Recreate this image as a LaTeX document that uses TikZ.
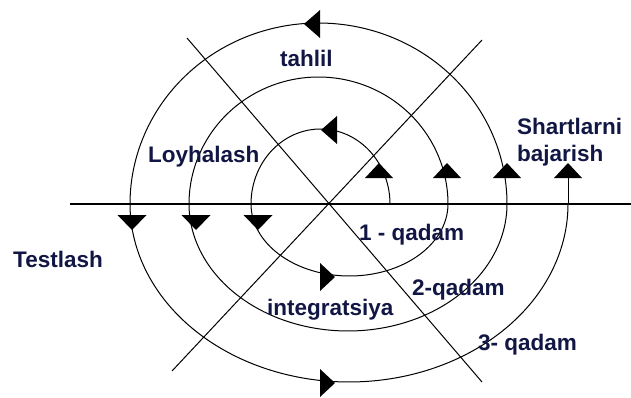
\documentclass[tikz,border=0pt]{standalone}
\usepackage{fontspec}
\setmainfont{Liberation Sans}
\usetikzlibrary{positioning}
\definecolor{labelnavy}{RGB}{18, 22, 68}

\begin{document}
\begin{tikzpicture}[x=1pt, y=-1pt,
  spiral/.style={draw=black, line width=1pt},
  axis/.style={draw=black, line width=1.1pt},
  head/.style={fill=black},
  lbl/.style={text=labelnavy, font=\fontsize{22.5}{27}\selectfont\bfseries, inner sep=0pt, anchor=base west, align=left}
]
  \useasboundingbox (0,0) rectangle (631,398);

  % Axes
  \coordinate (axisW) at (70,204);
  \coordinate (axisE) at (631,204);
  \coordinate (diagNW) at (187,38);
  \coordinate (diagSE) at (482,382);
  \coordinate (diagNE) at (482,40);
  \coordinate (diagSW) at (172,371);
  \draw [axis] (axisW) -- (axisE);
  \draw [spiral] (diagNW) -- (diagSE);
  \draw [spiral] (diagNE) -- (diagSW);

  % Spiral, upper half turns
  \foreach \cx/\hr/\vr in {320.5/69.5/75, 318.5/129.5/127, 318.5/188.5/181}
    \draw [spiral] plot [domain=0:180, samples=60, smooth] ({\cx+\hr*cos(\x)}, {204-\vr*sin(\x)});
  % Spiral, lower half turns
  \foreach \cx/\hr/\vr in {349.5/98.5/72, 348/159/127, 349/219/178}
    \draw [spiral] plot [domain=0:180, samples=60, smooth] ({\cx-\hr*cos(\x)}, {204+\vr*sin(\x)});
  \coordinate (spiralEnd) at (568,204);
  \draw [spiral] (spiralEnd) -- ++(0,-26);

  % Arrowheads
  \foreach \ax in {379,447,507,568}
    \fill [head] (\ax,163) -- ++(-14,15) -- ++(28,0) -- cycle;
  \foreach \ax in {132,196,258}
    \fill [head] (\ax,230) -- ++(-14.5,-15) -- ++(29,0) -- cycle;
  \foreach \ax/\ay in {304/24, 321/130}
    \fill [head] (\ax,\ay) -- ++(16,-14) -- ++(0,28) -- cycle;
  \foreach \ax/\ay in {335/277, 335/383}
    \fill [head] (\ax,\ay) -- ++(-15,-14) -- ++(0,28) -- cycle;

  % Labels
  \node [lbl] (tahlil) at (280,67) {tahlil};
  \node [lbl] (loyhalash) at (148,163) {Loyhalash};
  \node [lbl] (testlash) at (13,267) {Testlash};
  \node [lbl, anchor=north west] (shartlar) at (517,118) {Shartlarni\\bajarish};
  \node [lbl] (qadam1) at (359,240) {1 - qadam};
  \node [lbl] (qadam2) at (412,295) {2-qadam};
  \node [lbl] (integr) at (267,315) {integratsiya};
  \node [lbl] (qadam3) at (478,350) {3- qadam};

\end{tikzpicture}
\end{document}
